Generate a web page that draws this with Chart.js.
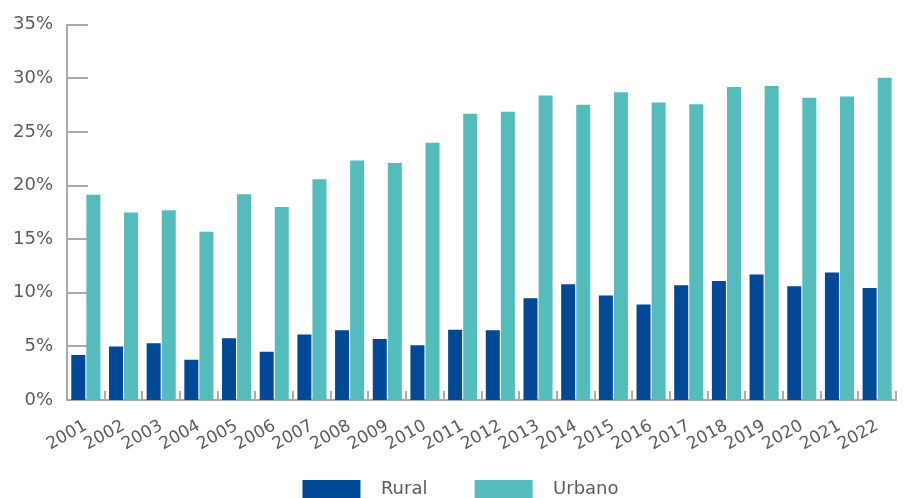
<!DOCTYPE html>
<html>
<head>
<meta charset="utf-8">
<script src="https://cdn.jsdelivr.net/npm/chart.js@4"></script>
<style>
  html, body { margin: 0; padding: 0; background: #fff; overflow: hidden; }
  #wrap { width: 905px; height: 509px; }
</style>
</head>
<body>
<div id="wrap"><canvas id="graphique"></canvas></div>
<script>
const annees = ["2001","2002","2003","2004","2005","2006","2007","2008","2009","2010","2011",
  "2012","2013","2014","2015","2016","2017","2018","2019","2020","2021","2022"];
const rural = [4.2, 5.0, 5.3, 3.75, 5.75, 4.5, 6.1, 6.5, 5.7, 5.1, 6.55,
  6.5, 9.5, 10.8, 9.75, 8.9, 10.7, 11.1, 11.7, 10.6, 11.9, 10.45];
const urbano = [19.15, 17.5, 17.7, 15.7, 19.2, 18.0, 20.6, 22.35, 22.1, 24.0, 26.7,
  26.9, 28.4, 27.55, 28.7, 27.75, 27.6, 29.2, 29.3, 28.2, 28.3, 30.05];
const ticksY = [0, 5, 10, 15, 20, 25, 30, 35];

const gris = "#5c5c5c";
const gris_axe = "#ababab";
const police = "'DejaVu Sans', sans-serif";

// petits traits vers l'intérieur du graphique (comme la référence)
const traitsInterieurs = {
  id: "traitsInterieurs",
  afterLayout(chart){
    // la légende de la référence est un peu décalée vers la droite
    chart.legend.left += 25;
  },
  beforeDatasetsDraw(chart){
    const ctx = chart.ctx;
    const x = chart.scales.x;
    const y = chart.scales.y;
    const zone = chart.chartArea;
    ctx.save();
    ctx.strokeStyle = gris_axe;
    ctx.lineWidth = 2;
    ctx.beginPath();
    for(let v of ticksY){
      const py = Math.round(y.getPixelForValue(v));
      ctx.moveTo(zone.left, py);
      ctx.lineTo(zone.left + 21, py);
    }
    for(let i = 0; i <= annees.length; i++){
      const px = Math.round(x.getPixelForValue(i - 0.5));
      ctx.moveTo(px, zone.bottom);
      ctx.lineTo(px, zone.bottom - 9);
    }
    ctx.stroke();
    ctx.restore();
  }
};

new Chart(document.querySelector("#graphique"), {
  type: "bar",
  data: {
    labels: annees,
    datasets: [
      { label: "Rural", data: rural, backgroundColor: "#004996", borderWidth: 0 },
      { label: "Urbano", data: urbano, backgroundColor: "#55bcbc", borderWidth: 0 }
    ]
  },
  options: {
    responsive: true,
    maintainAspectRatio: false,
    animation: false,
    layout: { padding: { left: 0, right: 9, top: 17, bottom: 0 } },
    datasets: { bar: { barPercentage: 0.93, categoryPercentage: 0.8 } },
    plugins: {
      tooltip: { enabled: false },
      legend: {
        position: "bottom",
        labels: {
          boxWidth: 58,
          boxHeight: 19,
          padding: 30,
          color: gris,
          font: { family: police, size: 18 },
          generateLabels(chart){
            const items = Chart.defaults.plugins.legend.labels.generateLabels(chart);
            items[0].text = "  " + items[0].text + "   ";
            items[1].text = "  " + items[1].text;
            return items;
          }
        }
      }
    },
    scales: {
      x: {
        grid: { display: false, drawTicks: false },
        border: { color: gris_axe, width: 2 },
        ticks: {
          color: gris,
          font: { family: police, size: 17 },
          minRotation: 29,
          maxRotation: 29,
          autoSkip: false,
          padding: 16
        },
        afterFit(scale){ scale.height = 50; }
      },
      y: {
        min: 0,
        max: 35,
        grid: { display: false, drawTicks: false },
        border: { color: gris_axe, width: 2 },
        afterBuildTicks(scale){
          scale.ticks = ticksY.map(v => ({ value: v }));
        },
        ticks: {
          color: gris,
          font: { family: police, size: 18 },
          padding: 14,
          callback: (v) => v + "%"
        },
        afterFit(scale){ scale.width = 67; }
      }
    }
  },
  plugins: [traitsInterieurs]
});
</script>
</body>
</html>
